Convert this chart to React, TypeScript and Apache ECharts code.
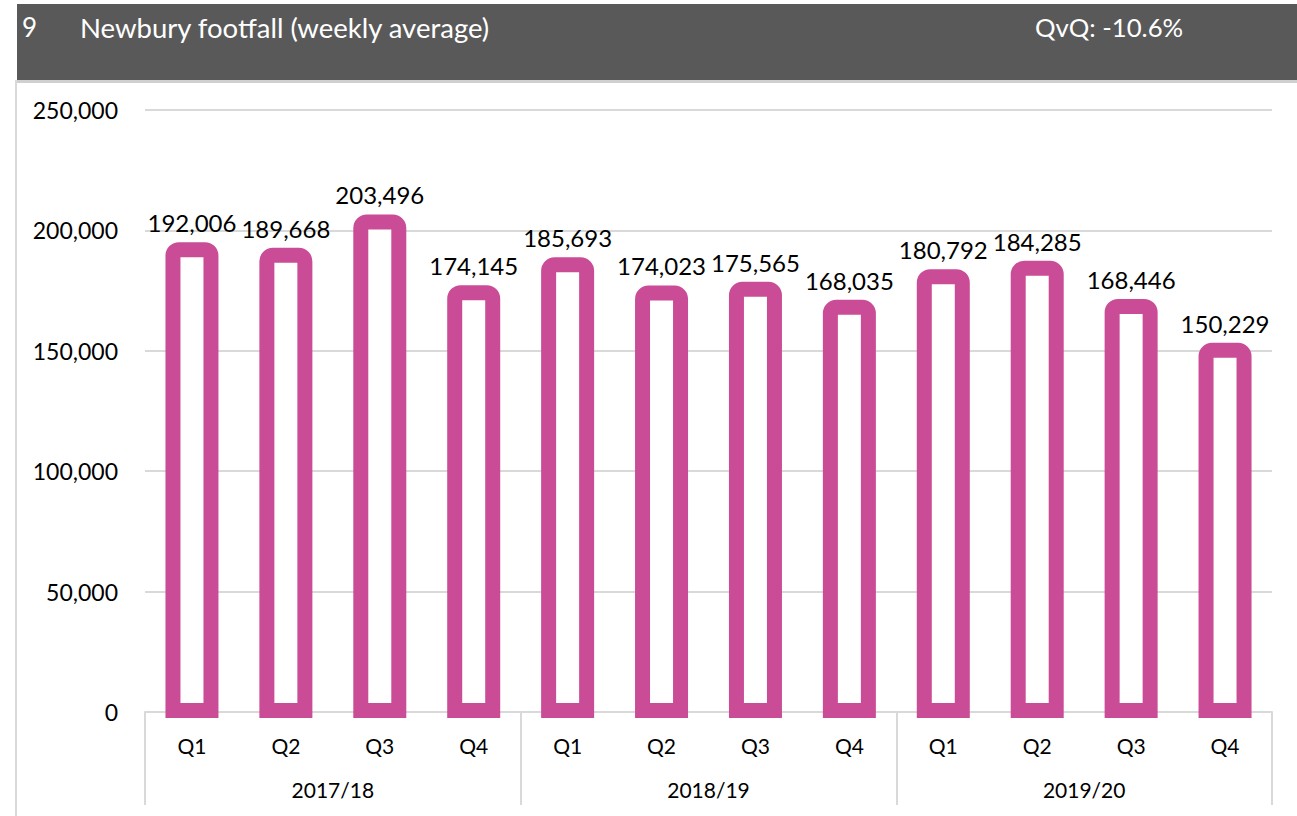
import React, { useEffect, useRef } from "react";
import * as echarts from "echarts";

const quarters = ["Q1", "Q2", "Q3", "Q4", "Q1", "Q2", "Q3", "Q4", "Q1", "Q2", "Q3", "Q4"];
const years = ["2017/18", "2018/19", "2019/20"];
const footfall = [192006, 189668, 203496, 174145, 185693, 174023, 175565, 168035, 180792, 184285, 168446, 150229];
const yTicks = { min: 0, max: 250000, interval: 50000 };
const headerNumber = "9";
const headerTitle = "Newbury footfall (weekly average)";
const headerChange = "QvQ: -10.6%";

const FONT = "Lato, 'Open Sans', sans-serif";
const PINK = "#CB4C96";
const fmt = (v: number) => String(v).replace(/\B(?=(\d{3})+(?!\d))/g, ",");

export default function App() {
  const ref = useRef<HTMLDivElement>(null);
  useEffect(() => {
    if (!ref.current) return;
    const chart = echarts.init(ref.current, null, { renderer: "svg" });
    chart.setOption({
      animation: false,
      backgroundColor: "#ffffff",
      textStyle: { fontFamily: FONT },
      grid: { left: 145, right: 25, top: 110, bottom: 104, containLabel: false },
      graphic: [
        { type: "rect", shape: { x: 17, y: 4, width: 1280, height: 76 }, style: { fill: "#595959" } },
        { type: "line", shape: { x1: 17, y1: 81.5, x2: 1297, y2: 81.5 }, style: { stroke: "#d0d0d0", lineWidth: 3 } },
        { type: "line", shape: { x1: 16, y1: 80, x2: 16, y2: 816 }, style: { stroke: "#d9d9d9", lineWidth: 2 } },
        { type: "text", x: 22, y: 27, style: { text: headerNumber, fill: "#ffffff", font: `26px ${FONT}`, textVerticalAlign: "middle" } },
        { type: "text", x: 80, y: 27, style: { text: headerTitle, fill: "#ffffff", font: `27.5px ${FONT}`, textVerticalAlign: "middle" } },
        { type: "text", x: 1035, y: 27, style: { text: headerChange, fill: "#ffffff", font: `25.7px ${FONT}`, textVerticalAlign: "middle" } },
      ],
      xAxis: [
        {
          type: "category",
          data: quarters,
          position: "bottom",
          axisLine: { show: true, lineStyle: { color: "#d9d9d9", width: 2 } },
          axisTick: { show: false },
          axisLabel: { color: "#000", fontSize: 21, margin: 23, fontFamily: FONT },
        },
        {
          type: "category",
          data: years,
          position: "bottom",
          axisLine: { show: false },
          axisTick: { show: true, length: 93, lineStyle: { color: "#d9d9d9", width: 2 } },
          axisLabel: { color: "#000", fontSize: 21, margin: 67, fontFamily: FONT },
        },
      ],
      yAxis: {
        type: "value",
        min: yTicks.min,
        max: yTicks.max,
        interval: yTicks.interval,
        axisLine: { show: false },
        axisTick: { show: false },
        splitLine: { lineStyle: { color: "#d9d9d9", width: 2 } },
        axisLabel: { color: "#000", fontSize: 23, margin: 27, fontFamily: FONT, formatter: (v: number) => fmt(v) },
      },
      series: [
        {
          type: "custom",
          xAxisIndex: 0,
          yAxisIndex: 0,
          encode: { x: 0, y: 1 },
          data: footfall.map((v, i) => [i, v]),
          renderItem: (params: any, api: any) => {
            const idx = api.value(0);
            const val = api.value(1);
            const top = api.coord([idx, val]);
            const base = api.coord([idx, 0]);
            const bw = 38;
            return {
              type: "group",
              children: [
                {
                  type: "rect",
                  shape: { x: top[0] - bw / 2, y: top[1], width: bw, height: base[1] - top[1] - 1.5, r: [6, 6, 0, 0] },
                  style: { fill: "#ffffff", stroke: PINK, lineWidth: 15 },
                },
                {
                  type: "text",
                  x: top[0],
                  y: top[1] - 27,
                  style: {
                    text: fmt(val),
                    fill: "#000",
                    font: `24px ${FONT}`,
                    textAlign: "center",
                    textVerticalAlign: "middle",
                  },
                },
              ],
            };
          },
        },
      ],
    });
    return () => chart.dispose();
  }, []);
  return <div ref={ref} style={{ position: "fixed", left: 0, top: 0, width: 1297, height: 816 }} />;
}
